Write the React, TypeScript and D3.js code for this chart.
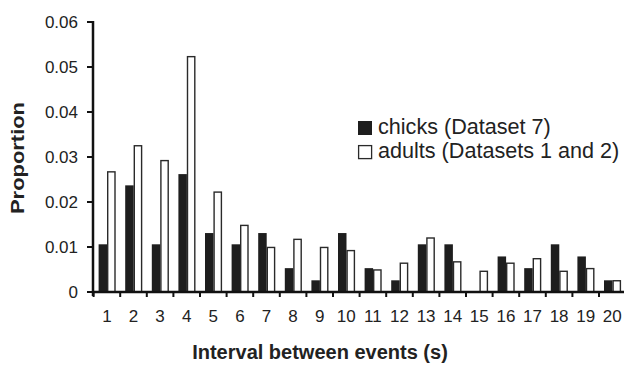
import React from 'react';
import * as d3 from 'd3';

// intervals (s)
const intervals = ['1','2','3','4','5','6','7','8','9','10','11','12','13','14','15','16','17','18','19','20'];
// chicks (Dataset 7)
const chicks = [0.0106,0.0237,0.0106,0.0262,0.0131,0.0106,0.0131,0.0053,0.0026,0.0131,0.0053,0.0026,0.0106,0.0106,0,0.0079,0.0053,0.0106,0.0079,0.0026];
// adults (Datasets 1 and 2)
const adults = [0.0267,0.0325,0.0292,0.0523,0.0222,0.0148,0.0099,0.0117,0.0099,0.0092,0.0049,0.0064,0.012,0.0067,0.0046,0.0064,0.0074,0.0046,0.0052,0.0025];
const yTicks = [0, 0.01, 0.02, 0.03, 0.04, 0.05, 0.06];
const yTickLabels = ['0','0.01','0.02','0.03','0.04','0.05','0.06'];
const seriesNames = ['chicks (Dataset 7)', 'adults (Datasets 1 and 2)'];

const W = 624, H = 365;
const font = '"Liberation Sans", Arial, sans-serif';

export default function App() {
  const x = d3.scaleBand().domain(intervals).range([93.6, 625.6]).paddingInner(0).paddingOuter(0);
  const inner = d3.scaleBand().domain(['c', 'a']).range([5, 22]);
  const y = d3.scaleLinear().domain([0, 0.06]).range([292, 22]);
  const axisX = 93;
  const baseY = y(0);

  return (
    <svg width={W} height={H} style={{ position: 'absolute', left: 0, top: 0, background: '#fff' }}>
      {/* bars */}
      {intervals.map((c, i) => (
        <g key={c}>
          {chicks[i] > 0 && (
            <rect x={x(c)! + inner('c')!} y={y(chicks[i])} width={inner.bandwidth()}
              height={baseY - y(chicks[i])} fill="#1e1e1e" />
          )}
          <rect x={x(c)! + inner('a')! + 0.6} y={y(adults[i])} width={inner.bandwidth() - 1.2}
            height={baseY - y(adults[i])} fill="#fff" stroke="#2a2a2a" strokeWidth={1.4} />
        </g>
      ))}

      {/* y axis */}
      <line x1={axisX} x2={axisX} y1={y(0.06) - 1} y2={baseY + 4} stroke="#111" strokeWidth={2.5} />
      {yTicks.map((t, i) => (
        <g key={t}>
          <line x1={axisX - 6} x2={axisX} y1={y(t)} y2={y(t)} stroke="#111" strokeWidth={2} />
          <text x={78} y={y(t)} dy="0.36em" textAnchor="end" fontFamily={font} fontSize={17} fill="#222">
            {yTickLabels[i]}
          </text>
        </g>
      ))}

      {/* x axis */}
      <line x1={axisX} x2={W} y1={baseY} y2={baseY} stroke="#111" strokeWidth={2.5} />
      {intervals.map((c) => (
        <g key={c}>
          <line x1={x(c)!} x2={x(c)!} y1={baseY - 1} y2={baseY + 5} stroke="#111" strokeWidth={2} />
          <text x={x(c)! + x.bandwidth() / 2} y={322} textAnchor="middle" fontFamily={font} fontSize={17} fill="#222">
            {c}
          </text>
        </g>
      ))}

      {/* axis titles */}
      <text x={320} y={359} textAnchor="middle" fontFamily={font} fontSize={20} fontWeight="bold" fill="#222">
        Interval between events (s)
      </text>
      <text transform="translate(24,158) rotate(-90)" textAnchor="middle" fontFamily={font} fontSize={19}
        fontWeight="bold" fill="#222" textLength={112} lengthAdjust="spacingAndGlyphs">
        Proportion
      </text>

      {/* legend */}
      <rect x={358} y={121} width={14} height={14} fill="#1e1e1e" />
      <text x={378} y={134} fontFamily={font} fontSize={21.6} fill="#222">{seriesNames[0]}</text>
      <rect x={358.6} y={145.6} width={13} height={13} fill="#fff" stroke="#2a2a2a" strokeWidth={1.3} />
      <text x={378} y={158} fontFamily={font} fontSize={21.6} fill="#222">{seriesNames[1]}</text>
    </svg>
  );
}
